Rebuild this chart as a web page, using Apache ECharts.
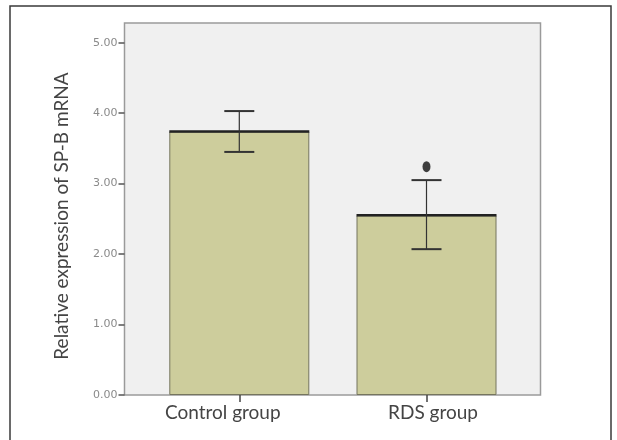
<!DOCTYPE html>
<html>
<head>
<meta charset="utf-8">
<script src="https://cdn.jsdelivr.net/npm/echarts@6/dist/echarts.min.js"></script>
<style>
html,body{margin:0;padding:0;background:#fff;}
#chart{width:617px;height:440px;}
</style>
</head>
<body>
<div id="chart"></div>
<script>
// ---- data ----
const categories = ['Control group', 'RDS group'];
const means = [3.74, 2.55];
const errLow = [3.45, 2.07];
const errHigh = [4.03, 3.05];
const outlier = [[1, 3.24]];          // [category index, value]
const yTicks = [0, 1, 2, 3, 4, 5];
const yMax = 5.28;

const chart = echarts.init(document.getElementById('chart'), null, {renderer: 'canvas'});

const errData = categories.map((c, i) => [i, errLow[i], errHigh[i]]);
const topData = categories.map((c, i) => [i, means[i]]);

const option = {
  animation: false,
  backgroundColor: '#ffffff',
  graphic: [{
    type: 'rect', silent: true, z: 100,
    shape: {x: 10, y: 6, width: 601, height: 460},
    style: {fill: 'none', stroke: '#3a3a3a', lineWidth: 1.5}
  }],
  grid: [
    {left: 145.7, right: 96.9, top: 23, bottom: 45, show: false, z: 2},
    {left: 124.5, right: 76.5, top: 23, bottom: 45, show: true,
     backgroundColor: '#f0f0f0', borderColor: '#9a9a9a', borderWidth: 1.5, z: 0}
  ],
  xAxis: [
    {
      type: 'category', gridIndex: 0, data: categories,
      axisLine: {show: false},
      axisTick: {show: true, alignWithLabel: true, length: 7, lineStyle: {color: '#444', width: 1.5}},
      axisLabel: {
        margin: 8, color: '#444', fontFamily: 'Lato', fontSize: 19,
        formatter: function (v, i) { return i === 0 ? '{a|' + v + '}' : '{b|' + v + '}'; },
        rich: {
          a: {fontFamily: 'Lato', fontSize: 19, color: '#444', padding: [0, 33, 0, 0]},
          b: {fontFamily: 'Lato', fontSize: 19, color: '#444', padding: [0, 0, 0, 13]}
        }
      },
      splitLine: {show: false}
    },
    {type: 'value', gridIndex: 1, show: false}
  ],
  yAxis: [
    {
      type: 'value', gridIndex: 0, min: 0, max: yMax, interval: 1, offset: 21.2,
      name: 'Relative expression of SP-B mRNA', nameLocation: 'middle', nameGap: 53,
      nameTextStyle: {fontFamily: 'Lato', fontSize: 19, color: '#444', padding: [0, 14, 0, 0]},
      axisLine: {show: false},
      axisTick: {show: true, length: 6, customValues: yTicks, lineStyle: {color: '#555', width: 1.5}},
      axisLabel: {
        margin: 7, color: '#8a8a8a', fontFamily: 'DejaVu Sans', fontSize: 11,
        customValues: yTicks,
        formatter: v => v.toFixed(2)
      },
      splitLine: {show: false}
    },
    {type: 'value', gridIndex: 1, show: false, min: 0, max: yMax}
  ],
  series: [
    {
      type: 'bar', xAxisIndex: 0, yAxisIndex: 0, data: means, barWidth: 140,
      itemStyle: {color: '#cdcd9c', borderColor: '#75755e', borderWidth: 1},
      z: 2
    },
    {
      type: 'custom', xAxisIndex: 0, yAxisIndex: 0, data: topData, z: 3,
      renderItem: function (params, api) {
        const p = api.coord([api.value(0), api.value(1)]);
        return {
          type: 'line',
          shape: {x1: p[0] - 70, y1: p[1], x2: p[0] + 70, y2: p[1]},
          style: {stroke: '#222', lineWidth: 2.5}
        };
      }
    },
    {
      type: 'custom', xAxisIndex: 0, yAxisIndex: 0, data: errData, z: 4,
      renderItem: function (params, api) {
        const lo = api.coord([api.value(0), api.value(1)]);
        const hi = api.coord([api.value(0), api.value(2)]);
        const hw = 15;
        return {
          type: 'group',
          children: [
            {type: 'line', shape: {x1: lo[0], y1: lo[1], x2: hi[0], y2: hi[1]}, style: {stroke: '#333', lineWidth: 1.2}},
            {type: 'line', shape: {x1: hi[0] - hw, y1: hi[1], x2: hi[0] + hw, y2: hi[1]}, style: {stroke: '#333', lineWidth: 2}},
            {type: 'line', shape: {x1: lo[0] - hw, y1: lo[1], x2: lo[0] + hw, y2: lo[1]}, style: {stroke: '#333', lineWidth: 2}}
          ]
        };
      }
    },
    {
      type: 'scatter', xAxisIndex: 0, yAxisIndex: 0, data: outlier,
      symbol: 'circle', symbolSize: [8, 11],
      itemStyle: {color: '#111'}, z: 5
    }
  ]
};
chart.setOption(option);
</script>
</body>
</html>
